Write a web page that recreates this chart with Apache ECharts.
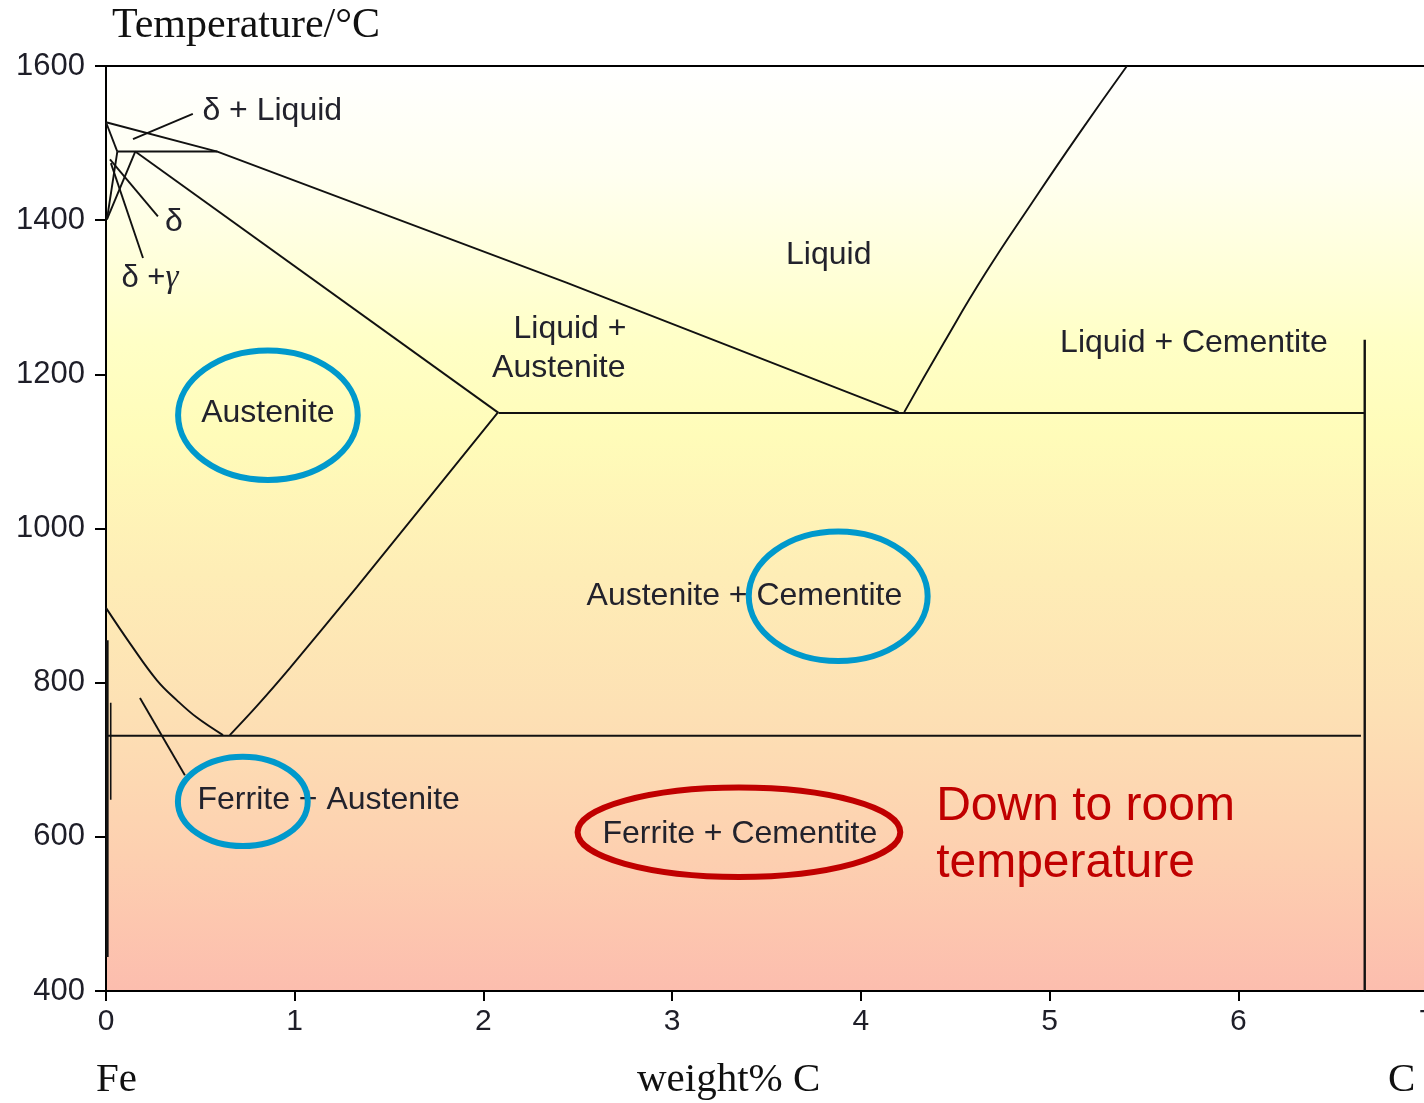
<!DOCTYPE html>
<html>
<head>
<meta charset="utf-8">
<script src="https://cdn.jsdelivr.net/npm/echarts@6/dist/echarts.min.js"></script>
<style>
html,body{margin:0;padding:0;background:#fff;}
#chart{width:1424px;height:1103px;}
</style>
</head>
<body>
<div id="chart"></div>
<script>
// ---- Axis ticks ----
const xTicks = [0, 1, 2, 3, 4, 5, 6, 7];
const yTicks = [400, 600, 800, 1000, 1200, 1400, 1600];

// ---- Phase boundaries (weight% C, °C) ----
const liquidusFe = [[0, 1527], [0.59, 1489], [2.44, 1319], [4.20, 1151]];
const deltaSolidus = [[0, 1527], [0.06, 1489]];
const peritectic = [[0.06, 1489], [0.59, 1489]];
const deltaGammaLeft = [[0.06, 1489], [0.005, 1401]];
const deltaGammaRight = [[0.155, 1489], [0.005, 1401]];
const austeniteSolidus = [[0.155, 1489], [2.08, 1150]];
const eutectic = [[2.08, 1150], [6.67, 1150]];
const liquidusC = [[4.23, 1151], [4.44, 1241], [4.66, 1331], [4.90, 1420], [5.15, 1510], [5.41, 1600]];
const cementiteLine = [[6.67, 400], [6.67, 1245]];
const eutectoid = [[0, 731], [6.65, 731]];
const a3Line = [[0, 897], [0.127, 851], [0.27, 803], [0.376, 777], [0.48, 755], [0.62, 732]];
const acmLine = [[0.656, 732], [0.80, 770], [0.974, 819], [1.329, 924], [2.075, 1150]];
const ferriteSolvus = [[0.006, 855], [0.006, 444]];
const ferriteSolvus2 = [[0.025, 774], [0.025, 648]];

// ---- Leader lines ----
const leaderDeltaLiquid = [[0.46, 1538], [0.143, 1505]];
const leaderDelta = [[0.021, 1479], [0.275, 1405]];
const leaderDeltaGamma = [[0.026, 1474], [0.196, 1351]];
const leaderFerriteAust = [[0.18, 780], [0.418, 680]];

// ---- Region labels ----
const labelTexts = ['δ + Liquid', 'δ', 'δ +γ', 'Liquid', 'Liquid +', 'Austenite', 'Liquid + Cementite',
  'Austenite', 'Austenite + Cementite', 'Ferrite + Austenite', 'Ferrite + Cementite'];
const labelPos = [[0.881, 1542], [0.36, 1397], [0.233, 1324], [3.83, 1354], [2.758, 1258], [2.753, 1208],
  [5.765, 1240], [0.858, 1149], [3.383, 912], [1.18, 648], [3.359, 604]];
const noteTexts = ['Down to room', 'temperature'];
const notePos = [[4.399, 639], [4.399, 565]];

// ---- Highlight ellipses (centre, radii in data units) ----
const ellipseCentres = [[0.858, 1147], [3.880, 912], [0.725, 646], [3.354, 606]];
const ellipseRadii = [[0.476, 84], [0.474, 84], [0.344, 58], [0.855, 58]];
const ellipseKinds = ['blue', 'blue', 'blue', 'red'];

const chart = echarts.init(document.getElementById('chart'), null, {renderer: 'canvas'});

function lineSeries(data, width, smooth) {
  return {
    type: 'line', data: data, symbol: 'none', silent: true, animation: false,
    smooth: smooth || false,
    lineStyle: {color: '#111', width: width || 1.9}, z: 3
  };
}

const sans = '"Liberation Sans", Arial, sans-serif';
const serif = '"Liberation Serif", "Times New Roman", serif';

const option = {
  animation: false,
  backgroundColor: '#fff',
  grid: {
    left: 106, top: 66, width: 1321, height: 925,
    outerBoundsMode: 'none', containLabel: false,
    show: true, borderColor: '#000', borderWidth: 2,
    backgroundColor: {
      type: 'linear', x: 0, y: 0, x2: 0, y2: 1,
      colorStops: [
        {offset: 0, color: '#ffffff'},
        {offset: 0.12, color: '#fffff0'},
        {offset: 0.3, color: '#ffffc6'},
        {offset: 0.4, color: '#fffcb9'},
        {offset: 0.55, color: '#feedb6'},
        {offset: 0.7, color: '#fde0b4'},
        {offset: 0.85, color: '#fdd0b0'},
        {offset: 1, color: '#fcbdae'}
      ]
    }
  },
  xAxis: {
    type: 'value', min: xTicks[0], max: xTicks[xTicks.length - 1], interval: 1,
    splitLine: {show: false},
    axisLine: {show: true, onZero: false, lineStyle: {color: '#000', width: 2}},
    axisTick: {show: true, length: 10, lineStyle: {color: '#000', width: 2}},
    axisLabel: {margin: 16, fontSize: 30, fontFamily: sans, color: '#1e1e28',
      formatter: function (v) { return String(v); }}
  },
  yAxis: {
    type: 'value', min: yTicks[0], max: yTicks[yTicks.length - 1], interval: 200,
    splitLine: {show: false},
    axisLine: {show: true, onZero: false, lineStyle: {color: '#000', width: 2}},
    axisTick: {show: true, length: 11, lineStyle: {color: '#000', width: 2}},
    axisLabel: {margin: 21, fontSize: 31, fontFamily: sans, color: '#1e1e28',
      formatter: function (v) { return String(v); }},
    name: 'Temperature/°C', nameLocation: 'end', nameGap: 40,
    nameTextStyle: {fontSize: 42, fontFamily: serif, color: '#111', align: 'left', verticalAlign: 'middle', padding: [0, 0, 0, 6]}
  },
  graphic: [
    {type: 'text', left: 96, top: 1060, style: {text: 'Fe', fontSize: 41, fontFamily: serif, fill: '#111'}},
    {type: 'text', left: 637, top: 1060, style: {text: 'weight% C', fontSize: 41, fontFamily: serif, fill: '#111'}},
    {type: 'text', left: 1388, top: 1060, style: {text: 'C', fontSize: 41, fontFamily: serif, fill: '#111'}}
  ],
  series: [
    lineSeries(liquidusFe, 1.9),
    lineSeries(deltaSolidus),
    lineSeries(peritectic, 2),
    lineSeries(deltaGammaLeft),
    lineSeries(deltaGammaRight),
    lineSeries(austeniteSolidus),
    lineSeries(eutectic, 2),
    lineSeries(liquidusC, 1.9, 0.5),
    lineSeries(cementiteLine, 2.4),
    lineSeries(eutectoid, 2),
    lineSeries(a3Line, 1.9, 0.4),
    lineSeries(acmLine, 1.9, 0.3),
    lineSeries(ferriteSolvus, 3),
    lineSeries(ferriteSolvus2, 1.6),
    lineSeries(leaderDeltaLiquid),
    lineSeries(leaderDelta),
    lineSeries(leaderDeltaGamma),
    lineSeries(leaderFerriteAust),
    {
      type: 'custom', silent: true, animation: false, z: 5,
      data: labelPos,
      renderItem: function (params, api) {
        const i = params.dataIndex;
        const p = api.coord([api.value(0), api.value(1)]);
        const txt = labelTexts[i];
        const rightAligned = (i === 4 || i === 5);
        const style = {
          text: txt, fill: '#22222c', fontSize: 32, fontFamily: sans,
          align: rightAligned ? 'right' : 'center', verticalAlign: 'middle'
        };
        if (txt === 'δ +γ') {
          style.text = '{a|δ +}{g|γ}';
          style.rich = {
            a: {fontSize: 31, fontFamily: sans, fill: '#22222c'},
            g: {fontSize: 33, fontFamily: serif, fontStyle: 'italic', fill: '#22222c'}
          };
        }
        return {type: 'text', x: p[0], y: p[1], style: style};
      }
    },
    {
      type: 'custom', silent: true, animation: false, z: 5,
      data: notePos,
      renderItem: function (params, api) {
        const p = api.coord([api.value(0), api.value(1)]);
        return {type: 'text', x: p[0], y: p[1], style: {
          text: noteTexts[params.dataIndex], fill: '#c00000', fontSize: 48, fontFamily: sans,
          align: 'left', verticalAlign: 'middle'}};
      }
    },
    {
      type: 'custom', silent: true, animation: false, z: 6,
      data: ellipseCentres,
      renderItem: function (params, api) {
        const i = params.dataIndex;
        const c = api.coord([api.value(0), api.value(1)]);
        const s = api.size([ellipseRadii[i][0], ellipseRadii[i][1]]);
        return {type: 'ellipse', shape: {cx: c[0], cy: c[1], rx: s[0], ry: s[1]},
          style: {fill: null, stroke: ellipseKinds[i] === 'red' ? '#c00000' : '#0099cc', lineWidth: 6}};
      }
    }
  ]
};
chart.setOption(option);
</script>
</body>
</html>
